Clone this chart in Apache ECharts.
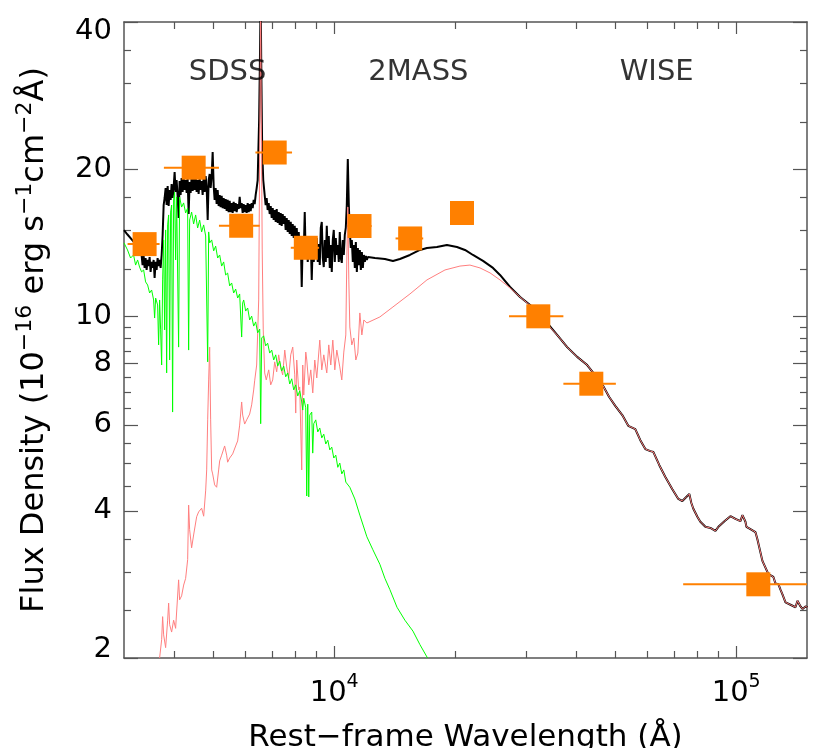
<!DOCTYPE html>
<html>
<head>
<meta charset="utf-8">
<script src="https://cdn.jsdelivr.net/npm/echarts@6/dist/echarts.min.js"></script>
<style>
html, body { margin: 0; padding: 0; background: #fff; }
#chart { width: 830px; height: 748px; }
</style>
</head>
<body>
<div id="chart"></div>
<script>
// rest-frame wavelength (A), flux density (1e-16 erg/s/cm2/A)
const totalModel = [
	[3000, 15.0], [3060, 14.7], [3150, 14.3], [3240, 13.9], [3318, 13.35], [3337, 12.73], [3357, 13.29], [3376, 12.56],
	[3395, 13.16], [3415, 12.44], [3435, 13.04], [3454, 12.67], [3474, 13.22], [3494, 12.33], [3514, 12.92], [3534, 12.56],
	[3555, 13.04], [3575, 11.98], [3596, 12.92], [3616, 12.44], [3637, 13.16], [3658, 12.67], [3679, 13.04], [3700, 12.56],
	[3722, 13.35], [3743, 14.67], [3765, 16.89], [3786, 17.46], [3808, 18.3], [3830, 16.89], [3852, 18.47], [3874, 16.81],
	[3896, 18.13], [3918, 17.3], [3941, 18.65], [3964, 17.46], [3986, 18.3], [4009, 19.73], [4032, 17.96], [4055, 19.0],
	[4078, 17.63], [4102, 15.89], [4125, 18.91], [4149, 17.71], [4173, 19.18], [4197, 17.96], [4221, 19.27], [4246, 18.13],
	[4270, 19.0], [4295, 17.88], [4319, 19.18], [4344, 16.19], [4369, 18.82], [4394, 17.88], [4419, 19.27], [4445, 18.05],
	[4470, 19.09], [4496, 18.13], [4522, 19.36], [4548, 17.96], [4574, 19.0], [4600, 17.79], [4627, 19.18], [4654, 18.13],
	[4680, 18.91], [4707, 17.71], [4734, 19.27], [4762, 17.96], [4789, 19.36], [4817, 18.3], [4845, 15.74], [4872, 19.0],
	[4900, 19.55], [4928, 18.3], [4957, 19.36], [4985, 21.69], [5014, 18.47], [5042, 17.3], [5071, 18.3], [5100, 16.97],
	[5130, 18.13], [5159, 16.81], [5189, 17.71], [5219, 16.73], [5249, 17.63], [5279, 16.65], [5309, 17.46], [5340, 16.58],
	[5370, 17.38], [5401, 16.42], [5432, 17.3], [5463, 16.34], [5495, 17.22], [5527, 16.34], [5558, 17.05], [5590, 16.27],
	[5622, 17.14], [5655, 16.42], [5687, 17.05], [5720, 16.34], [5753, 16.97], [5786, 16.58], [5819, 17.55], [5852, 16.65],
	[5886, 17.05], [5920, 16.27], [5954, 16.97], [5988, 16.34], [6023, 16.89], [6057, 16.27], [6092, 17.05], [6127, 16.34],
	[6162, 16.97], [6197, 16.42], [6233, 17.05], [6269, 16.65], [6305, 17.3], [6341, 16.97], [6378, 17.71], [6414, 18.3],
	[6451, 19.0], [6505, 25.2], [6545, 36.8], [6563, 46.0], [6583, 33.4], [6620, 21.89], [6660, 19.0], [6715, 17.71],
	[6753, 16.89], [6792, 17.46], [6831, 16.5], [6871, 17.05], [6911, 16.19], [6951, 16.81], [6991, 15.89], [7031, 16.65],
	[7071, 15.74], [7112, 16.5], [7153, 15.6], [7194, 16.58], [7236, 15.52], [7277, 16.34], [7318, 15.38], [7360, 16.27],
	[7402, 15.31], [7445, 16.19], [7488, 15.45], [7531, 16.04], [7574, 15.02], [7618, 15.89], [7662, 14.88], [7706, 15.74],
	[7751, 14.74], [7796, 15.6], [7840, 14.6], [7885, 15.45], [7931, 14.46], [7976, 15.31], [8022, 14.19], [8068, 15.16],
	[8115, 13.93], [8161, 14.88], [8208, 13.67], [8255, 14.6], [8303, 11.48], [8351, 14.33], [8399, 13.54], [8447, 16.34],
	[8496, 13.16], [8545, 14.46], [8594, 12.92], [8643, 14.19], [8693, 13.35], [8743, 14.33], [8793, 11.87], [8843, 14.06],
	[8894, 12.92], [8945, 13.93], [8997, 13.16], [9048, 14.46], [9101, 12.92], [9153, 14.06], [9207, 12.73], [9260, 15.16],
	[9313, 15.6], [9367, 13.16], [9420, 12.61], [9475, 14.33], [9529, 12.92], [9584, 15.31], [9639, 13.16], [9694, 14.6],
	[9750, 12.56], [9806, 13.99], [9862, 12.33], [9919, 14.33], [9976, 15.02], [10034, 12.92], [10091, 14.46], [10149, 13.35],
	[10208, 13.99], [10266, 12.92], [10325, 14.88], [10384, 13.16], [10444, 12.86], [10504, 14.33], [10565, 13.35], [10625, 14.67],
	[10687, 15.16], [10748, 16.89], [10810, 20.98], [10873, 16.89], [10936, 14.88], [10999, 13.8], [11062, 14.33], [11126, 12.92],
	[11190, 13.99], [11254, 12.56], [11319, 14.19], [11384, 12.33], [11450, 13.8], [11516, 12.73], [11582, 13.67], [11649, 12.44],
	[11716, 13.54], [11783, 12.56], [11851, 13.35], [11919, 12.92], [11988, 13.29], [12057, 13.04], [12126, 13.22], [12630, 13.16],
	[13370, 13.1], [14000, 12.98], [14570, 13.1], [15430, 13.35], [16340, 13.67], [17010, 13.8], [18010, 13.86], [19070, 13.99],
	[20200, 13.86], [21150, 13.67], [22140, 13.35], [23450, 12.98], [24830, 12.56], [25850, 12.15], [27380, 11.48], [29000, 10.95],
	[30710, 10.55], [32150, 10.16], [33860, 9.69], [35850, 9.16], [37980, 8.65], [40220, 8.26], [42590, 7.95], [45100, 7.48],
	[46680, 7.2], [48310, 6.84], [50020, 6.56], [52070, 6.28], [53890, 5.97], [56100, 5.88], [57740, 5.58], [59420, 5.35],
	[61150, 5.3], [62200, 5.28], [64380, 4.96], [66640, 4.69], [69370, 4.43], [71780, 4.23], [73440, 4.19], [75140, 4.27],
	[76450, 4.33], [77340, 4.15], [78230, 4.04], [80050, 3.89], [81430, 3.8], [83810, 3.71], [86250, 3.69], [88770, 3.64],
	[90310, 3.71], [93470, 3.81], [96740, 3.9], [99560, 3.85], [102450, 3.81], [103640, 3.92], [104230, 3.94], [105440, 3.8],
	[106030, 3.71], [108490, 3.67], [111630, 3.62], [112900, 3.5], [116190, 3.16], [120250, 2.97], [123760, 2.93], [125200, 2.84],
	[127380, 2.83], [128860, 2.76], [130330, 2.7], [132620, 2.6], [136480, 2.57], [140420, 2.54], [142050, 2.62], [142860, 2.64],
	[144520, 2.55], [146190, 2.52], [148730, 2.55], [150400, 2.54]
]

const agnModel = [
	[3679, 2.0], [3722, 2.18], [3743, 2.43], [3765, 2.23], [3808, 2.1], [3852, 2.39], [3874, 2.59], [3896, 2.34],
	[3941, 2.26], [3986, 2.39], [4032, 2.3], [4102, 2.89], [4125, 2.63], [4173, 2.68], [4222, 2.82], [4270, 2.91],
	[4320, 3.18], [4344, 4.11], [4369, 3.66], [4419, 3.36], [4470, 3.57], [4548, 3.89], [4600, 3.98], [4680, 4.05],
	[4735, 3.9], [4790, 4.41], [4817, 4.85], [4845, 6.14], [4872, 7.41], [4900, 8.65], [4928, 6.14], [4957, 4.85],
	[4985, 4.76], [5042, 4.52], [5100, 4.47], [5159, 4.85], [5189, 5.06], [5249, 5.2], [5339, 5.43], [5401, 5.2],
	[5432, 5.03], [5495, 5.13], [5590, 5.23], [5687, 5.43], [5752, 5.56], [5819, 5.99], [5886, 6.68], [5920, 6.28],
	[5988, 6.02], [6057, 6.14], [6162, 6.31], [6233, 6.59], [6305, 7.07], [6341, 7.38], [6414, 7.95], [6489, 10.8],
	[6526, 21.89], [6563, 42.0], [6583, 27.7], [6621, 13.67], [6660, 9.38], [6715, 7.66], [6776, 7.41], [6872, 7.77],
	[6951, 7.24], [7031, 7.41], [7112, 8.07], [7194, 7.7], [7276, 8.34], [7360, 7.84], [7445, 7.59], [7534, 8.53],
	[7618, 7.88], [7706, 7.48], [7795, 8.34], [7886, 8.65], [7977, 7.59], [8022, 6.34], [8068, 8.14], [8161, 7.07],
	[8208, 7.17], [8303, 4.85], [8351, 7.95], [8400, 6.9], [8497, 8.45], [8546, 8.14], [8645, 7.24], [8744, 7.77],
	[8845, 6.97], [8947, 8.14], [9050, 7.48], [9207, 8.94], [9313, 7.77], [9420, 8.34], [9584, 7.66], [9694, 8.74],
	[9806, 7.95], [9920, 8.94], [10035, 7.77], [10150, 8.53], [10325, 7.88], [10444, 7.41], [10565, 8.45], [10687, 9.16],
	[10748, 13.04], [10810, 16.73], [10873, 11.87], [10936, 9.51], [11062, 8.74], [11190, 9.03], [11319, 8.14], [11450, 8.41],
	[11582, 10.16], [11716, 9.16], [11851, 9.83], [12057, 9.69], [12990, 9.97], [14000, 10.45], [15430, 11.11], [17010, 11.87],
	[18860, 12.44], [20550, 12.67], [21760, 12.73], [23050, 12.56], [24410, 12.27], [25850, 11.87], [27380, 11.43], [29000, 10.95],
	[31060, 10.45], [32530, 10.06], [33860, 9.64], [35850, 9.16], [37980, 8.65], [40220, 8.26], [42590, 7.95], [45100, 7.48],
	[46680, 7.2], [48310, 6.84], [50020, 6.56], [52070, 6.28], [53890, 5.97], [56100, 5.88], [57740, 5.58], [59420, 5.35],
	[61150, 5.3], [62200, 5.28], [64380, 4.96], [66640, 4.69], [69370, 4.43], [71780, 4.23], [73440, 4.19], [75140, 4.27],
	[76450, 4.33], [77340, 4.15], [78230, 4.04], [80050, 3.89], [81430, 3.8], [83810, 3.71], [86250, 3.69], [88770, 3.64],
	[90310, 3.71], [93470, 3.81], [96740, 3.9], [99560, 3.85], [102450, 3.81], [103640, 3.92], [104230, 3.94], [105440, 3.8],
	[106030, 3.71], [108490, 3.67], [111630, 3.62], [112900, 3.5], [116190, 3.16], [120250, 2.97], [123760, 2.93], [125200, 2.84],
	[127380, 2.83], [128860, 2.76], [130330, 2.7], [132620, 2.6], [136480, 2.57], [140420, 2.54], [142050, 2.62], [142860, 2.64],
	[144520, 2.55], [146190, 2.52], [148730, 2.55], [150400, 2.54]
]

const hostModel = [
	[3000, 14.13], [3061, 13.67], [3115, 13.16], [3169, 13.35], [3206, 12.73], [3243, 13.04], [3280, 12.61], [3318, 12.33],
	[3357, 12.44], [3395, 11.76], [3435, 11.59], [3474, 11.16], [3514, 11.32], [3555, 10.8], [3575, 9.92], [3596, 10.9],
	[3637, 10.55], [3658, 8.74], [3679, 10.8], [3700, 9.38], [3722, 7.95], [3743, 11.87], [3765, 14.33], [3786, 9.38],
	[3808, 15.02], [3830, 7.66], [3852, 15.38], [3874, 16.12], [3896, 8.14], [3918, 16.34], [3941, 16.89], [3963, 6.37],
	[3986, 17.3], [4009, 17.96], [4032, 13.04], [4055, 17.55], [4078, 17.63], [4102, 8.65], [4125, 17.54], [4173, 16.73],
	[4221, 17.06], [4270, 16.27], [4319, 16.65], [4344, 8.53], [4369, 15.74], [4419, 16.34], [4470, 15.45], [4522, 16.12],
	[4574, 15.16], [4627, 15.74], [4680, 14.88], [4734, 15.38], [4789, 14.6], [4845, 8.07], [4872, 14.88], [4900, 14.13],
	[4957, 14.33], [5014, 13.61], [5071, 13.92], [5130, 13.16], [5189, 13.35], [5249, 12.67], [5309, 12.92], [5370, 12.15],
	[5432, 12.26], [5495, 11.54], [5558, 11.7], [5622, 11.16], [5687, 11.37], [5753, 10.9], [5819, 11.11], [5886, 9.07],
	[5920, 10.65], [5954, 10.8], [6023, 10.25], [6092, 10.4], [6162, 9.83], [6233, 10.01], [6305, 9.55], [6378, 9.74],
	[6451, 9.25], [6526, 9.42], [6563, 6.03], [6601, 9.03], [6677, 9.12], [6753, 8.7], [6831, 8.81], [6911, 8.41],
	[6991, 8.53], [7071, 8.14], [7153, 8.34], [7236, 7.91], [7318, 8.1], [7402, 7.73], [7488, 7.91], [7574, 7.52],
	[7662, 7.66], [7751, 7.27], [7840, 7.45], [7931, 7.07], [8022, 7.24], [8115, 6.87], [8208, 7.04], [8303, 6.68],
	[8351, 6.43], [8399, 6.8], [8496, 6.5], [8545, 4.29], [8594, 6.61], [8643, 4.27], [8693, 6.28], [8793, 6.37],
	[8843, 5.25], [8894, 6.03], [8997, 6.14], [9101, 5.8], [9207, 5.91], [9313, 5.64], [9420, 5.74], [9529, 5.48],
	[9639, 5.58], [9750, 5.33], [9862, 5.4], [9976, 5.13], [10091, 5.2], [10208, 4.91], [10325, 5.01], [10444, 4.76],
	[10565, 4.85], [10687, 4.58], [10936, 4.47], [11255, 4.23], [11582, 3.92], [12057, 3.54], [12480, 3.33], [12990, 3.11],
	[13370, 2.91], [13757, 2.76], [14330, 2.54], [14990, 2.39], [15700, 2.27], [16340, 2.13], [17070, 2.0]
]

// photometry: SDSS ugriz, 2MASS JHK, WISE W1-W4
const photWave = [3376, 4471, 5869, 7112, 8499, 11560, 15450, 20790, 32190, 43610, 113500]
const photFlux = [14.05, 20.14, 15.32, 21.63, 13.81, 15.3, 14.43, 16.27, 10.0, 7.28, 2.83]
const photWaveLo = [3062, 3770, 5168, 6368, 7798, 10790, 14210, 19700, 27220, 37160, 73800]
const photWaveHi = [3678, 5168, 6526, 7855, 9171, 12390, 16650, 21900, 37160, 50190, 160000]

const bandNames = ["SDSS", "2MASS", "WISE"]
const bandWave = [5430, 16200, 63400]
const bandFlux = [31.5, 31.5, 31.5]

const xMajor = [10000, 100000]
const xMinor = [4000, 5000, 6000, 7000, 8000, 9000, 20000, 30000, 40000, 50000, 60000, 70000, 80000, 90000]
const yMajor = [2, 4, 6, 8, 10, 20, 40]
const yMinor = [2.5, 3, 3.5, 4.5, 5, 5.5, 6.5, 7, 7.5, 8.5, 9, 9.5, 12.5, 15, 17.5, 25, 30, 35]

const FONT = "DejaVu Sans"
const AXIS_COLOR = "#555"

const chart = echarts.init(document.getElementById("chart"))

const xBase = { type: "log", logBase: 10, min: 3000, max: 150000, splitLine: { show: false } }
const yBase = { type: "log", logBase: 10, min: 2, max: 40, splitLine: { show: false } }

function tickAxis(base, position, values, len, withLine, labels) {
	return Object.assign({}, base, {
		position: position,
		axisLine: { show: withLine, onZero: false, lineStyle: { color: AXIS_COLOR, width: 1.5 } },
		axisTick: { show: true, inside: true, length: len, customValues: values, lineStyle: { color: AXIS_COLOR, width: 1.2 } },
		axisLabel: labels || { show: false }
	})
}

const xLabel = {
	show: true,
	customValues: xMajor,
	margin: 15,
	formatter: v => "{n|10}{s|" + Math.round(Math.log10(v)) + "}",
	rich: {
		n: { fontFamily: FONT, fontSize: 29, color: "#000", lineHeight: 40, verticalAlign: "middle" },
		s: { fontFamily: FONT, fontSize: 19, color: "#000", lineHeight: 20, verticalAlign: "top" }
	}
}
const yLabel = {
	show: true,
	customValues: yMajor,
	margin: 12,
	fontFamily: FONT,
	fontSize: 29,
	lineHeight: 18,
	color: "#000",
	verticalAlignMaxLabel: "top",
	verticalAlignMinLabel: "bottom",
	formatter: v => String(v)
}

const supStyle = { fontFamily: FONT, fontSize: 22, color: "#000", lineHeight: 22, verticalAlign: "top" }
const mainStyle = { fontFamily: FONT, fontSize: 32, color: "#000", lineHeight: 42, verticalAlign: "middle" }
const xTitleStyle = { fontFamily: FONT, fontSize: 31, color: "#000", lineHeight: 40, verticalAlign: "middle" }

const option = {
	animation: false,
	backgroundColor: "#fff",
	grid: { left: 124, right: 23, top: 22, bottom: 90, containLabel: false, outerBoundsMode: "none" },
	xAxis: [
		Object.assign(tickAxis(xBase, "bottom", xMajor, 12, true, xLabel), {
			name: "{m|Rest−frame Wavelength (Å)}",
			nameLocation: "middle",
			nameGap: 60,
			nameTextStyle: { rich: { m: xTitleStyle } }
		}),
		tickAxis(xBase, "bottom", xMinor, 7, false),
		tickAxis(xBase, "top", xMajor, 12, true),
		tickAxis(xBase, "top", xMinor, 7, false)
	],
	yAxis: [
		Object.assign(tickAxis(yBase, "left", yMajor, 14, true, yLabel), {
			name: "{m|Flux Density (10}{s|−16}{m| erg s}{s|−1}{m|cm}{s|−2}{m|Å)}",
			nameLocation: "middle",
			nameRotate: 90,
			nameGap: 68,
			nameTextStyle: { rich: { m: mainStyle, s: supStyle } }
		}),
		tickAxis(yBase, "left", yMinor, 7, false),
		tickAxis(yBase, "right", yMajor, 14, true),
		tickAxis(yBase, "right", yMinor, 7, false)
	],
	series: [
		{
			name: "total",
			type: "line",
			data: totalModel,
			symbol: "none",
			clip: true,
			lineStyle: { color: "#000", width: 2 },
			z: 2
		},
		{
			name: "agn",
			type: "line",
			data: agnModel,
			symbol: "none",
			clip: true,
			lineStyle: { color: "#FF7F7F", width: 1 },
			z: 3
		},
		{
			name: "host",
			type: "line",
			data: hostModel,
			symbol: "none",
			clip: true,
			lineStyle: { color: "#00FF00", width: 1 },
			z: 4
		},
		{
			name: "errbar",
			type: "custom",
			clip: true,
			z: 5,
			data: photWave.map((w, i) => [photWaveLo[i], photWaveHi[i], photFlux[i]]),
			encode: { x: [0, 1], y: 2 },
			renderItem: (params, api) => {
				const p1 = api.coord([api.value(0), api.value(2)])
				const p2 = api.coord([api.value(1), api.value(2)])
				return {
					type: "line",
					shape: { x1: p1[0], y1: p1[1], x2: p2[0], y2: p2[1] },
					style: { stroke: "#FF8000", lineWidth: 2 }
				}
			}
		},
		{
			name: "phot",
			type: "scatter",
			symbol: "rect",
			symbolSize: 24,
			z: 6,
			itemStyle: { color: "#FF8000", opacity: 1 },
			data: photWave.map((w, i) => [w, photFlux[i]])
		},
		{
			name: "bands",
			type: "scatter",
			symbolSize: 0,
			z: 7,
			silent: true,
			label: {
				show: true,
				position: "inside",
				formatter: p => bandNames[p.dataIndex],
				fontFamily: FONT,
				fontSize: 29,
				color: "#000",
				textBorderWidth: 0,
				textBorderColor: "transparent"
			},
			data: bandWave.map((w, i) => [w, bandFlux[i]])
		}
	]
}

chart.setOption(option)
</script>
</body>
</html>
